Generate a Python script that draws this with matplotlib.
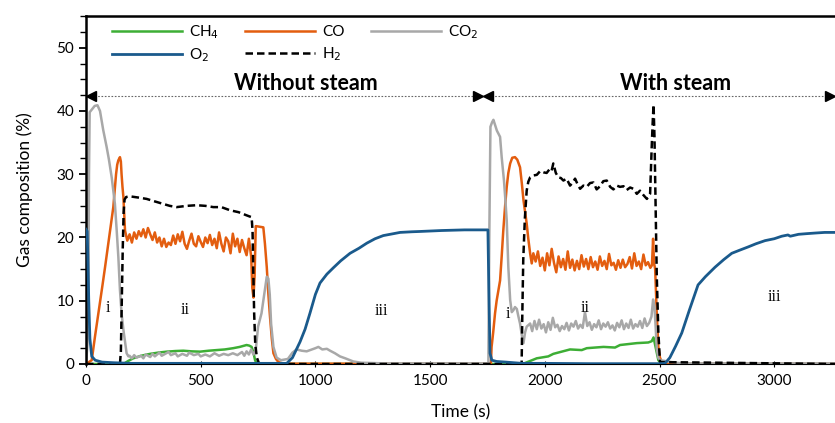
import matplotlib
matplotlib.use("Agg")
import matplotlib.pyplot as plt
from matplotlib.ticker import MultipleLocator

# Gas composition traces, time in s, value in %
O2_T = [0, 5, 8, 12, 17, 25, 40, 70, 120, 200, 400, 700, 800, 875, 900, 933, 955, 976,
        1000, 1020, 1050, 1078, 1110, 1151, 1190, 1224, 1260, 1296, 1340, 1369, 1420,
        1456, 1550, 1650, 1752, 1756, 1761, 1769, 1790, 1830, 1900, 2000, 2200, 2400,
        2500, 2524, 2545, 2570, 2597, 2630, 2668, 2700, 2742, 2780, 2815, 2850, 2886,
        2920, 2960, 3000, 3033, 3060, 3070, 3106, 3140, 3178, 3220, 3265]
O2_V = [21.3, 21.0, 17.0, 10.0, 4.0, 1.2, 0.6, 0.3, 0.2, 0.1, 0.1, 0.1, 0.1, 0.1, 1.0,
        3.5, 5.5, 8.0, 11.0, 12.8, 14.2, 15.2, 16.3, 17.5, 18.3, 19.1, 19.8, 20.3, 20.6,
        20.8, 20.9, 20.95, 21.1, 21.2, 21.2, 12.0, 1.7, 0.6, 0.4, 0.3, 0.1, 0.1, 0.05,
        0.05, 0.05, 0.1, 1.0, 2.8, 4.9, 8.5, 12.5, 13.8, 15.3, 16.5, 17.5, 18.0, 18.5,
        19.0, 19.5, 19.8, 20.2, 20.4, 20.2, 20.5, 20.6, 20.7, 20.8, 20.8]

CO2_T = [0, 10, 13, 16, 25, 38, 50, 61, 75, 90, 100, 112, 126, 134, 141, 148, 155, 163,
         170, 177, 185, 190, 200, 210, 220, 240, 250, 260, 280, 290, 300, 320, 330, 340,
         360, 370, 390, 400, 420, 440, 450, 470, 490, 500, 520, 540, 560, 580, 600, 620,
         640, 660, 680, 690, 700, 710, 720, 730, 740, 750, 765, 773, 788, 795, 801, 807,
         817, 831, 850, 880, 900, 918, 940, 962, 985, 1000, 1013, 1030, 1050, 1064, 1085,
         1107, 1130, 1165, 1200, 1300, 1754, 1758, 1763, 1770, 1776, 1783, 1791, 1798,
         1805, 1812, 1822, 1828, 1834, 1841, 1849, 1856, 1863, 1870, 1878, 1885, 1892,
         1900, 1907, 1914, 1921, 1936, 1945, 1955, 1965, 1975, 1985, 1995, 2005, 2015,
         2025, 2035, 2045, 2055, 2065, 2075, 2085, 2095, 2105, 2115, 2125, 2135, 2145,
         2155, 2165, 2175, 2185, 2195, 2205, 2215, 2225, 2235, 2245, 2255, 2265, 2275,
         2285, 2295, 2305, 2315, 2325, 2335, 2345, 2355, 2365, 2375, 2385, 2395, 2405,
         2415, 2425, 2435, 2445, 2455, 2465, 2472, 2478, 2483, 2488, 2495, 2502, 2520,
         2550, 2600, 3265]
CO2_V = [0.0, 5.0, 30.0, 39.8, 40.2, 40.8, 40.9, 40.0, 37.0, 34.3, 32.3, 29.5, 25.3, 21.0,
         16.9, 11.7, 8.0, 5.4, 3.5, 1.7, 1.2, 1.3, 0.9, 1.4, 1.0, 1.3, 0.9, 1.5, 1.1, 1.6,
         1.2, 1.8, 1.3, 1.5, 1.9, 1.4, 1.7, 1.2, 1.6, 1.3, 1.8, 1.4, 1.6, 1.2, 1.5, 1.2,
         1.7, 1.3, 1.6, 1.4, 1.7, 1.4, 1.9, 1.3, 2.0, 1.5, 2.3, 1.5, 2.2, 5.9, 8.0, 10.0,
         13.8, 13.5, 11.0, 6.3, 2.7, 1.0, 0.6, 0.8, 1.8, 2.3, 2.1, 2.0, 2.3, 2.5, 2.7, 2.3,
         2.4, 2.1, 1.7, 1.2, 0.9, 0.4, 0.2, 0.1, 0.1, 20.0, 37.5, 38.2, 38.6, 37.8, 36.9,
         36.4, 35.9, 32.7, 29.0, 26.0, 22.7, 15.3, 10.1, 8.2, 8.5, 9.0, 8.7, 7.5, 6.4, 4.5,
         3.3, 5.0, 5.9, 6.4, 5.2, 6.8, 5.5, 7.0, 5.6, 6.3, 5.0, 6.6, 5.4, 7.3, 5.8, 6.2,
         5.2, 6.0, 5.5, 6.5, 5.3, 6.4, 5.9, 6.8, 5.6, 6.2, 5.7, 8.2, 6.0, 6.6, 5.4, 6.3,
         5.8, 6.9, 5.5, 6.4, 5.9, 6.6, 5.6, 6.1, 5.3, 6.5, 5.8, 6.9, 5.5, 6.4, 5.7, 7.0,
         5.6, 6.3, 5.9, 6.8, 5.7, 7.2, 6.0, 6.5, 7.5, 10.2, 9.0, 6.0, 2.4, 1.0, 0.6, 0.5,
         0.3, 0.1, 0.1]

CO_T = [0, 25, 39, 50, 61, 72, 83, 95, 105, 112, 119, 125, 131, 136, 141, 148, 152, 155,
        159, 163, 167, 170, 177, 180, 190, 200, 210, 220, 230, 240, 250, 260, 270, 280,
        290, 300, 310, 320, 330, 340, 350, 360, 370, 380, 390, 400, 410, 420, 430, 440,
        450, 460, 470, 480, 490, 500, 510, 520, 530, 540, 550, 560, 570, 580, 590, 600,
        610, 620, 630, 640, 650, 660, 670, 680, 690, 700, 710, 720, 725, 730, 735, 740,
        773, 780, 788, 795, 802, 810, 817, 828, 839, 860, 1765, 1768, 1775, 1783, 1790,
        1797, 1805, 1812, 1819, 1827, 1834, 1841, 1849, 1858, 1870, 1880, 1892, 1900,
        1907, 1914, 1921, 1928, 1936, 1943, 1950, 1960, 1970, 1980, 1990, 2000, 2010,
        2020, 2030, 2040, 2050, 2060, 2070, 2080, 2090, 2100, 2110, 2120, 2130, 2140,
        2150, 2160, 2170, 2180, 2190, 2200, 2210, 2220, 2230, 2240, 2250, 2260, 2270,
        2280, 2290, 2300, 2310, 2320, 2330, 2340, 2350, 2360, 2370, 2380, 2390, 2400,
        2410, 2420, 2430, 2440, 2450, 2460, 2467, 2472, 2476, 2481, 2488, 2495, 2502,
        2510, 2530, 3265]
CO_V = [0.0, 0.6, 4.3, 7.0, 9.6, 12.5, 15.3, 18.5, 21.1, 23.0, 24.8, 27.5, 30.0, 31.5,
        32.2, 32.7, 32.0, 30.0, 28.0, 26.4, 23.5, 21.1, 20.0, 19.5, 20.5, 19.2, 20.8,
        19.8, 21.0, 20.2, 21.3, 20.0, 21.5, 20.5, 19.6, 20.8, 19.2, 20.0, 18.6, 19.8,
        18.5, 19.2, 18.8, 20.3, 19.0, 20.5, 19.4, 20.9, 19.0, 18.2, 19.5, 20.6, 19.0,
        18.6, 20.2, 19.3, 18.5, 20.0, 19.1, 20.4, 18.8, 19.8, 18.3, 20.8, 19.0, 17.8,
        20.0, 19.4, 17.5, 20.6, 18.6, 19.8, 17.7, 19.6, 18.3, 17.2, 19.8, 17.0, 12.0,
        10.5, 14.0, 21.8, 21.6, 19.0, 15.3, 11.0, 7.5, 4.0, 1.7, 0.8, 0.3, 0.05, 0.05,
        2.7, 5.0, 8.0, 10.0, 11.5, 13.2, 17.0, 21.1, 25.0, 28.0, 30.2, 31.7, 32.6, 32.7,
        32.3, 31.1, 28.5, 25.9, 24.0, 22.2, 19.8, 17.5, 15.9, 17.5, 16.2, 17.8, 15.5,
        16.8, 14.8, 17.5, 15.6, 18.2, 16.0, 14.5, 17.0, 15.3, 16.6, 14.9, 17.8, 15.2,
        16.5, 14.8, 16.3, 15.0, 17.2, 15.4, 16.6, 15.0, 16.9, 15.3, 16.2, 14.9, 17.0,
        15.5, 16.3, 15.0, 17.4, 15.6, 16.0, 14.9, 16.4, 15.2, 16.5, 15.3, 15.8, 16.9,
        15.1, 17.5, 15.5, 16.2, 15.0, 17.3, 15.6, 16.1, 15.2, 15.6, 19.8, 16.0, 15.0,
        8.0, 2.7, 1.0, 0.3, 0.05, 0.05]

H2_T = [0, 148, 152, 156, 160, 164, 168, 175, 192, 230, 264, 300, 337, 365, 395, 440,
        482, 520, 555, 590, 628, 665, 700, 722, 726, 729, 733, 738, 745, 755, 1899, 1902,
        1906, 1913, 1921, 1928, 1936, 1950, 1965, 1980, 1994, 2008, 2023, 2030, 2037,
        2048, 2059, 2070, 2081, 2095, 2110, 2120, 2132, 2143, 2154, 2168, 2183, 2197,
        2212, 2226, 2241, 2255, 2270, 2285, 2299, 2314, 2328, 2343, 2357, 2372, 2386,
        2401, 2415, 2430, 2445, 2459, 2466, 2470, 2474, 2478, 2483, 2488, 2495, 2502,
        3265]
H2_V = [0.0, 0.0, 2.0, 10.0, 18.0, 24.0, 26.0, 26.4, 26.5, 26.3, 26.1, 25.7, 25.3, 25.0,
        24.8, 25.0, 25.1, 25.0, 24.8, 24.8, 24.3, 24.0, 23.5, 23.2, 21.0, 15.0, 8.0, 3.0,
        1.0, 0.0, 0.0, 8.0, 16.4, 23.0, 27.4, 28.8, 29.5, 29.8, 29.9, 30.5, 30.3, 30.2,
        30.9, 30.6, 31.7, 30.2, 29.5, 29.4, 29.0, 29.3, 28.2, 28.6, 29.3, 28.4, 27.7,
        28.2, 28.0, 28.6, 28.7, 27.6, 28.1, 28.9, 29.0, 28.0, 27.6, 28.2, 28.0, 28.1,
        27.5, 27.9, 27.7, 26.9, 27.4, 26.7, 26.1, 26.9, 34.3, 38.0, 41.0, 36.0, 25.0,
        14.0, 5.0, 0.3, 0.0]

CH4_T = [0, 163, 185, 206, 240, 279, 315, 352, 390, 424, 460, 497, 535, 570, 605, 642,
         670, 700, 712, 722, 730, 737, 745, 1900, 1907, 1965, 2015, 2037, 2110, 2161,
         2183, 2256, 2306, 2328, 2401, 2451, 2466, 2474, 2481, 2488, 2495, 2510, 3265]
CH4_V = [0.0, 0.0, 0.5, 0.9, 1.3, 1.6, 1.8, 1.95, 2.05, 2.1, 2.0, 1.95, 2.1, 2.2, 2.3,
         2.5, 2.7, 3.0, 2.9, 2.7, 1.8, 0.6, 0.0, 0.0, 0.05, 0.9, 1.2, 1.6, 2.3, 2.2, 2.5,
         2.7, 2.6, 3.0, 3.3, 3.4, 3.6, 4.2, 3.0, 1.8, 0.6, 0.0, 0.0]

# Labels
PHASE_LABELS = ["i", "ii", "iii", "i", "ii", "iii"]
PHASE_T = [96, 432, 1286, 1840, 2175, 3000]
PHASE_V = [8.8, 8.5, 8.4, 7.9, 8.8, 10.6]
SECTION_LABELS = ["Without steam", "With steam"]
SECTION_T = [959, 2568]
SECTION_SPAN = [(22, 1710), (1753, 3243)]
SECTION_V = 42.4
SECTION_TEXT_V = 44.3

C_CH4 = "#3DAE35"
C_CO = "#E35D0F"
C_CO2 = "#A8A8A8"
C_O2 = "#1A5A8C"
C_H2 = "black"

FONT = "Lato"

plt.rcParams["font.family"] = [FONT, "DejaVu Sans"]

fig = plt.figure(figsize=(8.35, 4.23), dpi=100)
ax = fig.add_axes([0.103, 0.1395, 0.897, 0.8225])

lw = 1.8
l_ch4, = ax.plot(CH4_T, CH4_V, color=C_CH4, lw=lw, zorder=2)
l_co, = ax.plot(CO_T, CO_V, color=C_CO, lw=lw, zorder=2.2)
l_co2, = ax.plot(CO2_T, CO2_V, color=C_CO2, lw=lw, zorder=2.4)
l_h2, = ax.plot(H2_T, H2_V, color=C_H2, lw=lw, ls=(0, (3, 1.6)), zorder=2.6)
l_o2, = ax.plot(O2_T, O2_V, color=C_O2, lw=lw + 0.2, zorder=2.8)

# section arrows (dotted shaft, filled heads) and titles
for (t0, t1), lab, tc in zip(SECTION_SPAN, SECTION_LABELS, SECTION_T):
    ax.plot([t0, t1], [SECTION_V, SECTION_V], color="#666666", lw=0.8, ls=(0, (1.5, 1.5)))
    ax.plot([t0], [SECTION_V], marker="<", color="black", ms=7, clip_on=False)
    ax.plot([t1], [SECTION_V], marker=">", color="black", ms=7, clip_on=False)
    ax.text(tc, SECTION_TEXT_V, lab, ha="center", va="center",
            fontsize=15.5, fontweight="bold")

for lab, t, v in zip(PHASE_LABELS, PHASE_T, PHASE_V):
    ax.text(t, v, lab, ha="center", va="center", fontsize=11.5,
            family="Liberation Serif")

ax.set_xlim(0, 3265)
ax.set_ylim(0, 55)
ax.set_xticks([0, 500, 1000, 1500, 2000, 2500, 3000])
ax.yaxis.set_major_locator(MultipleLocator(10))
ax.yaxis.set_minor_locator(MultipleLocator(2.5))
ax.tick_params(axis="y", which="major", direction="out", length=5, width=1.3, labelsize=11)
ax.tick_params(axis="y", which="minor", direction="out", length=4, width=1.0)
ax.tick_params(axis="x", which="major", direction="inout", length=4, width=0.8,
               labelsize=11, pad=5)

ax.spines["right"].set_visible(False)
ax.spines["left"].set_linewidth(1.8)
ax.spines["top"].set_linewidth(1.8)
ax.spines["bottom"].set_linewidth(0.8)

ax.set_xlabel("Time (s)", fontsize=12.5, labelpad=12)
ax.set_ylabel("Gas composition (%)", fontsize=12.5, labelpad=17)

# column-major order gives rows: CH4 CO CO2 / O2 H2
ax.legend([l_ch4, l_o2, l_co, l_h2, l_co2],
          ["CH$_4$", "O$_2$", "CO", "H$_2$", "CO$_2$"],
          ncol=3, loc="upper left", bbox_to_anchor=(0.016, 1.02), frameon=False,
          fontsize=11, handlelength=4.6, columnspacing=1.7, handletextpad=0.45,
          labelspacing=0.4)

fig.savefig("out.png", dpi=100)
